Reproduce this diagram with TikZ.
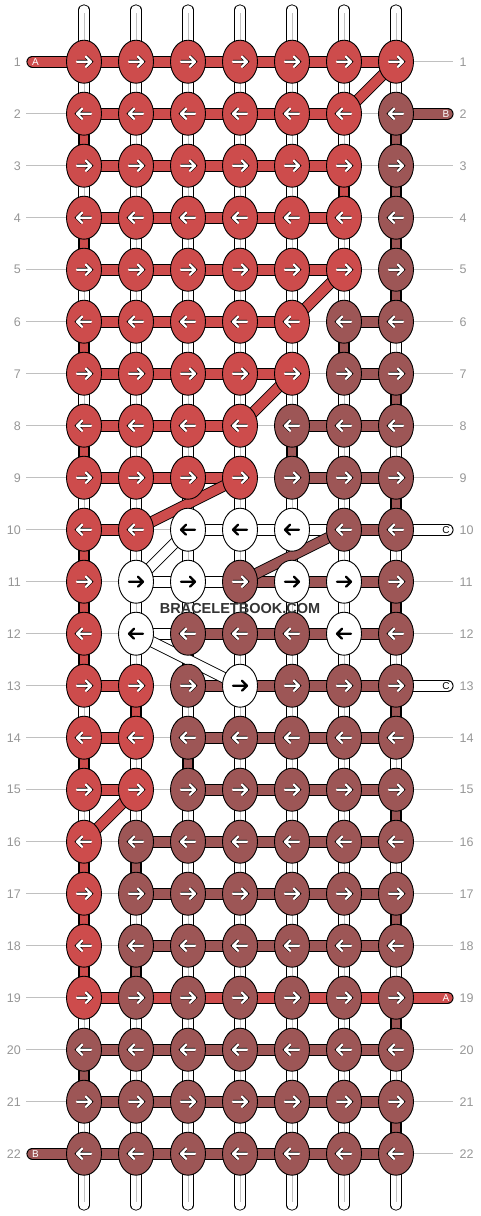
\documentclass[tikz,border=0pt]{standalone}
\usepackage{fontspec}
\setmainfont{Liberation Sans}
\usetikzlibrary{shapes.geometric}

\definecolor{kr}{RGB}{205,76,76}
\definecolor{kb}{RGB}{157,86,86}
\definecolor{kw}{RGB}{255,255,255}
\definecolor{guidegray}{RGB}{192,192,192}
\definecolor{numgray}{RGB}{150,150,150}

\pgfdeclarelayer{lines}
\pgfdeclarelayer{segs}
\pgfdeclarelayer{bars}
\pgfdeclarelayer{diags}
\pgfsetlayers{lines,segs,bars,diags,main}

\begin{document}
\begin{tikzpicture}[x=1pt,y=-1pt,
    knot/.style={shape=ellipse,draw=black,line width=0.9pt,minimum width=35pt,minimum height=43pt,inner sep=0pt},
    strand/.style={line width=0.9pt,double=#1,double distance=10.3pt},
    stub/.style={strand=#1,line cap=round},
    warp/.style={line width=0.9pt,double=white,double distance=9.5pt,line cap=round},
    guide/.style={draw=guidegray,line width=0.8pt},
    rownum/.style={text=numgray,font=\fontsize{12.5}{12.5}\selectfont,inner ysep=0pt},
    tag/.style={font=\fontsize{10}{10}\selectfont,inner sep=0pt},
    arrow r/.style={draw=white,line width=2.3pt,line cap=round,line join=round,preaction={draw=black,line width=3.5pt}},
    arrow b/.style={arrow r},
    arrow w/.style={draw=black,line width=2.2pt,line cap=round,line join=round}]
  \useasboundingbox (0,0) rectangle (480,1216);

  % knots
  \foreach \row/\ks in {1/{r,r,r,r,r,r,r},2/{r,r,r,r,r,r,b},3/{r,r,r,r,r,r,b},4/{r,r,r,r,r,r,b},
      5/{r,r,r,r,r,r,b},6/{r,r,r,r,r,b,b},7/{r,r,r,r,r,b,b},8/{r,r,r,r,b,b,b},9/{r,r,r,r,b,b,b},
      10/{r,r,w,w,w,b,b},11/{r,w,w,b,w,w,b},12/{r,w,b,b,b,w,b},13/{r,r,b,w,b,b,b},14/{r,r,b,b,b,b,b},
      15/{r,r,b,b,b,b,b},16/{r,b,b,b,b,b,b},17/{r,b,b,b,b,b,b},18/{r,b,b,b,b,b,b},19/{r,b,b,b,b,b,b},
      20/{b,b,b,b,b,b,b},21/{b,b,b,b,b,b,b},22/{b,b,b,b,b,b,b}}{
    \ifodd\row \def\dir{1}\else \def\dir{-1}\fi
    \foreach \kc [count=\col] in \ks {
      \node[knot,fill=k\kc] (k\row-\col) at ({84+52*(\col-1)},{61.7+52*(\row-1)}) {};
      \begin{scope}[shift={(k\row-\col.center)},xscale=\dir]
        \draw[arrow \kc] (-7,0) -- (7,0) (2,-5) -- (7,0) -- (2,5);
      \end{scope}
    }
  }

  % warp strands
  \foreach \col in {1,...,7}{
    \coordinate (top\col) at ({84+52*(\col-1)},10);
    \coordinate (bot\col) at ({84+52*(\col-1)},1205);
    \begin{pgfonlayer}{lines}
      \draw[warp] (top\col) -- (bot\col);
      \draw[guidegray,line width=0.7pt,shorten <=3pt,shorten >=3pt] (top\col) -- (bot\col);
    \end{pgfonlayer}
  }

  % row numbers
  \foreach \row in {1,...,22}{
    \node[rownum,anchor=east,inner xsep=5pt] (ln\row) at (26,{61.7+52*(\row-1)}) {\row};
    \node[rownum,anchor=west,inner xsep=6.5pt] (rn\row) at (453,{61.7+52*(\row-1)}) {\row};
    \begin{pgfonlayer}{lines}
      \draw[guide] (ln\row.east) -- (rn\row.west);
    \end{pgfonlayer}
  }

  % threads along the rows
  \foreach \row/\bs in {1/{r,r,r,r,r,r},2/{r,r,r,r,r,n},3/{r,r,r,r,r,n},4/{r,r,r,r,r,n},5/{r,r,r,r,r,n},
      6/{r,r,r,r,n,b},7/{r,r,r,r,n,b},8/{r,r,r,n,b,b},9/{r,r,r,n,b,b},10/{r,n,w,w,w,b},
      11/{n,w,w,b,b,b},12/{n,w,b,b,b,b},13/{r,n,b,b,b,b},14/{r,n,b,b,b,b},15/{r,n,b,b,b,b},
      16/{n,b,b,b,b,b},17/{n,b,b,b,b,b},18/{n,b,b,b,b,b},19/{r,r,r,r,r,r},
      20/{b,b,b,b,b,b},21/{b,b,b,b,b,b},22/{b,b,b,b,b,b}}{
    \foreach \kc [count=\col] in \bs {
      \if\kc n\else
        \pgfmathtruncatemacro\cn{\col+1}
        \begin{pgfonlayer}{bars}
          \draw[strand=k\kc] (k\row-\col.center) -- (k\row-\cn.center);
        \end{pgfonlayer}
      \fi
    }
  }

  % threads between rows
  \foreach \row/\col/\kc in {2/1/r,2/7/b,3/6/r,3/7/b,4/1/r,4/7/b,5/7/b,6/1/r,6/6/b,7/7/b,
      8/1/r,8/5/b,9/7/b,10/1/r,11/1/r,11/7/b,12/1/r,12/3/b,13/2/r,13/7/b,14/1/r,14/3/b,
      15/7/b,16/1/r,16/2/b,17/1/r,17/7/b,18/1/r,18/2/b,19/7/b,20/1/b,21/7/b}{
    \pgfmathtruncatemacro\rn{\row+1}
    \begin{pgfonlayer}{segs}
      \draw[strand=k\kc,double distance=8.8pt] (k\row-\col.center) -- (k\rn-\col.center);
    \end{pgfonlayer}
  }

  % crossings
  \foreach \ra/\ca/\rb/\cb/\kc in {1/7/2/6/r,5/6/6/5/r,7/5/8/4/r,9/4/10/2/r,15/2/16/1/r,
      10/6/11/4/b,10/3/11/2/w,12/2/13/4/w}{
    \begin{pgfonlayer}{diags}
      \draw[strand=k\kc,double distance=9.5pt] (k\ra-\ca.center) -- (k\rb-\cb.center);
    \end{pgfonlayer}
  }

  % loose ends
  \foreach \row/\col/\xe/\xt/\kc/\lab/\labcol in {1/1/32.5/35.5/r/A/white,2/7/447.5/446/b/B/white,
      10/7/447.5/446/w/C/black,13/7/447.5/446/w/C/black,19/7/447.5/446/r/A/white,22/1/32.5/35.5/b/B/white}{
    \coordinate (end\row) at (\xe,{61.7+52*(\row-1)});
    \node[tag,text=\labcol] (tag\row) at (\xt,{61.7+52*(\row-1)}) {\lab};
    \begin{pgfonlayer}{bars}
      \draw[stub=k\kc] (end\row) -- (k\row-\col.center);
    \end{pgfonlayer}
  }

  \node[font=\bfseries\fontsize{14.5}{14.5}\selectfont,text=black!80] (mark) at (240,608) {BRACELETBOOK.COM};
\end{tikzpicture}
\end{document}
